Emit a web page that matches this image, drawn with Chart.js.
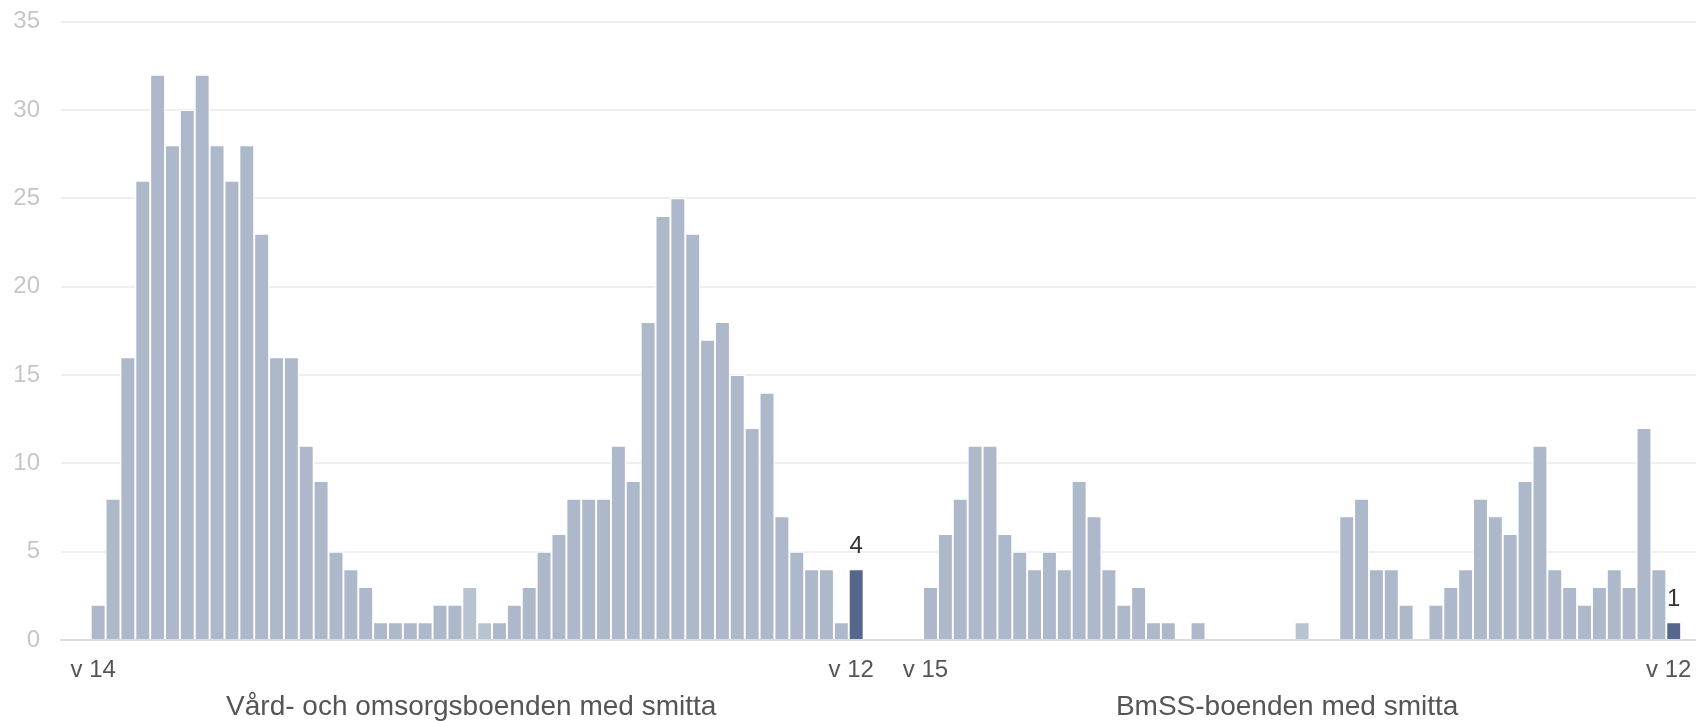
<!DOCTYPE html>
<html>
<head>
<meta charset="utf-8">
<script src="https://cdn.jsdelivr.net/npm/chart.js@4.4.1/dist/chart.umd.min.js"></script>
<style>
  html, body { margin: 0; padding: 0; background: #ffffff; }
  #wrap { width: 1696px; height: 721px; position: relative; }
</style>
</head>
<body>
<div id="wrap"><canvas id="chart"></canvas></div>
<script>
// ---- Data ----
const leftWeeks = ['v 14','v 15','v 16','v 17','v 18','v 19','v 20','v 21','v 22','v 23','v 24','v 25','v 26','v 27','v 28','v 29','v 30','v 31','v 32','v 33','v 34','v 35','v 36','v 37','v 38','v 39','v 40','v 41','v 42','v 43','v 44','v 45','v 46','v 47','v 48','v 49','v 50','v 51','v 52','v 53','v 1','v 2','v 3','v 4','v 5','v 6','v 7','v 8','v 9','v 10','v 11','v 12'];
const leftValues = [2,8,16,26,32,28,30,32,28,26,28,23,16,16,11,9,5,4,3,1,1,1,1,2,2,3,1,1,2,3,5,6,8,8,8,11,9,18,24,25,23,17,18,15,12,14,7,5,4,4,1,4];

const rightWeeks = ['v 15','v 16','v 17','v 18','v 19','v 20','v 21','v 22','v 23','v 24','v 25','v 26','v 27','v 28','v 29','v 30','v 31','v 32','v 33','v 34','v 35','v 36','v 37','v 38','v 39','v 40','v 41','v 42','v 43','v 44','v 45','v 46','v 47','v 48','v 49','v 50','v 51','v 52','v 53','v 1','v 2','v 3','v 4','v 5','v 6','v 7','v 8','v 9','v 10','v 11','v 12'];
const rightValues = [3,6,8,11,11,6,5,4,5,4,9,7,4,2,3,1,1,0,1,0,0,0,0,0,0,1,0,0,7,8,4,4,2,0,2,3,4,8,7,6,9,11,4,3,2,3,4,3,12,4,1];

const groupTitles = ['Vård- och omsorgsboenden med smitta', 'BmSS-boenden med smitta'];
const yTicks = [0, 5, 10, 15, 20, 25, 30, 35];

// ---- Layout of category slots (empty slots around / between the groups) ----
const LEAD = 2, GAP = 4, TRAIL = 1;
const blanks = n => Array(n).fill('');
const nulls = n => Array(n).fill(null);

const labels = [...blanks(LEAD), ...leftWeeks, ...blanks(GAP), ...rightWeeks, ...blanks(TRAIL)];
const data = [...nulls(LEAD), ...leftValues, ...nulls(GAP), ...rightValues, ...nulls(TRAIL)];

const leftStart = LEAD;
const leftEnd = LEAD + leftValues.length - 1;
const rightStart = leftEnd + 1 + GAP;
const rightEnd = rightStart + rightValues.length - 1;
const tickIdx = new Set([leftStart, leftEnd, rightStart, rightEnd]);

const BASE = '#adb9cb', LIGHT = '#b8c3d2', DARK = '#55678a';
const colors = labels.map((l, i) => {
  if (i === leftEnd || i === rightEnd) return DARK;
  if (i === leftStart + 25 || i === leftStart + 26 || i === rightStart + 25) return LIGHT;
  return BASE;
});

const FONT = "'Liberation Sans', Arial, sans-serif";

const overlay = {
  id: 'overlay',
  afterDraw(chart) {
    const ctx = chart.ctx;
    const meta = chart.getDatasetMeta(0);
    const x = chart.scales.x;
    ctx.save();
    // value labels above the last bars
    ctx.fillStyle = '#333333';
    ctx.font = '24px ' + FONT;
    ctx.textAlign = 'center';
    ctx.textBaseline = 'alphabetic';
    [leftEnd, rightEnd].forEach(i => {
      const el = meta.data[i];
      ctx.fillText(String(data[i]), el.x, el.y - 16);
    });
    // group titles
    ctx.fillStyle = '#555555';
    ctx.font = '28px ' + FONT;
    const base = chart.chartArea.bottom + 75;
    const lc = (x.getPixelForValue(leftStart) + x.getPixelForValue(leftEnd)) / 2 - 6;
    const rc = (x.getPixelForValue(rightStart) + x.getPixelForValue(rightEnd)) / 2 - 15;
    ctx.fillText(groupTitles[0], lc, base);
    ctx.fillText(groupTitles[1], rc, base);
    ctx.restore();
  }
};

new Chart(document.getElementById('chart'), {
  type: 'bar',
  data: {
    labels: labels,
    datasets: [{
      data: data,
      backgroundColor: colors,
      borderColor: '#ffffff',
      borderWidth: 1.3,
      barPercentage: 1,
      categoryPercentage: 1
    }]
  },
  options: {
    responsive: true,
    maintainAspectRatio: false,
    animation: false,
    layout: { padding: 0 },
    plugins: { legend: { display: false }, tooltip: { enabled: false } },
    scales: {
      x: {
        z: 1,
        grid: { display: false, drawTicks: false },
        border: { display: true, color: '#dcdcdc', width: 2 },
        ticks: {
          autoSkip: false, maxRotation: 0, minRotation: 0,
          color: '#555555', font: { family: FONT, size: 24 },
          padding: 16, labelOffset: -5,
          callback: (v, i) => tickIdx.has(i) ? labels[i] : ''
        },
        afterFit: s => { s.height = 81; s.paddingLeft = 0; s.paddingRight = 0; }
      },
      y: {
        min: 0, max: 35,
        afterBuildTicks: s => { s.ticks = yTicks.map(v => ({ value: v })); },
        grid: { color: '#efefef', lineWidth: 2, drawTicks: false },
        border: { display: false },
        ticks: { color: '#c6c6c6', font: { family: FONT, size: 24 }, padding: 21 },
        afterFit: s => { s.width = 61; s.paddingTop = 21.7; s.paddingBottom = 0; }
      }
    }
  },
  plugins: [overlay]
});
</script>
</body>
</html>
